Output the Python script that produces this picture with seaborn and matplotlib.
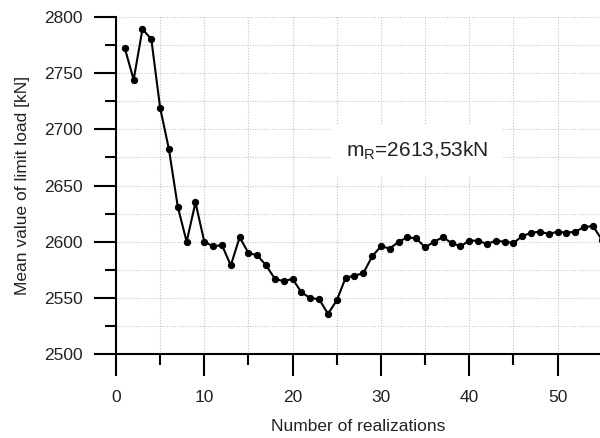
import numpy as np
import pandas as pd
import seaborn as sns
import matplotlib.pyplot as plt
from matplotlib.ticker import MultipleLocator

# Mean value of limit load vs. number of realizations
realizations = list(range(1, 56))
mean_load = [
    2772, 2744, 2789, 2780, 2719, 2682, 2631, 2600, 2635, 2600,
    2596, 2597, 2579, 2604, 2590, 2588, 2579, 2567, 2565, 2567,
    2555, 2550, 2549, 2536, 2548, 2568, 2570, 2572, 2587, 2596,
    2594, 2600, 2604, 2603, 2595, 2600, 2604, 2599, 2596, 2601,
    2601, 2598, 2601, 2600, 2599, 2605, 2608, 2609, 2607, 2609,
    2608, 2609, 2613, 2614, 2602,
]
annotation = "$\\mathregular{m_R}$=2613,53kN"
x_label = "Number of realizations"
y_label = "Mean value of limit load [kN]"


def main():
    sns.set_style("white")
    plt.rcParams['font.family'] = ['Liberation Sans', 'DejaVu Sans']

    df = pd.DataFrame({"n": realizations, "mean": mean_load})

    fig = plt.figure(figsize=(6, 4.38), dpi=100)
    ax = fig.add_axes([0.1933, 0.191, 0.8067, 0.7709])

    sns.lineplot(data=df, x="n", y="mean", ax=ax, color="black", linewidth=1.5,
                 marker="o", markersize=4.5, markeredgecolor="black", zorder=3)

    ax.set_xlim(0, 54.8)
    ax.set_ylim(2500, 2800)

    ax.xaxis.set_major_locator(MultipleLocator(10))
    ax.xaxis.set_minor_locator(MultipleLocator(5))
    ax.yaxis.set_major_locator(MultipleLocator(50))
    ax.yaxis.set_minor_locator(MultipleLocator(25))

    ax.grid(which="both", color="#c4c4c4", linestyle=(0, (1, 1.5)), linewidth=0.8)
    ax.set_axisbelow(True)

    for side in ["top", "right"]:
        ax.spines[side].set_visible(False)
    for side in ["left", "bottom"]:
        ax.spines[side].set_linewidth(1.5)
        ax.spines[side].set_color("black")

    ax.tick_params(which="major", direction="out", length=16, width=1.5,
                   labelsize=12.5, pad=8, bottom=True, left=True,
                   colors="black", labelcolor="#222222")
    ax.tick_params(which="minor", direction="out", length=8, width=1.5,
                   bottom=True, left=True, colors="black")
    ax.tick_params(axis="x", which="major", pad=10)

    ax.set_xlabel(x_label, fontsize=12.5, labelpad=10, color="#222222")
    ax.set_ylabel(y_label, fontsize=12.5, labelpad=10, color="#222222")

    ax.text(34.1, 2681, annotation, fontsize=15, ha="center", va="center",
            color="#222222",
            bbox=dict(facecolor="white", edgecolor="none", boxstyle="square,pad=0.7"),
            zorder=2)

    fig.savefig("out.png", dpi=100)


if __name__ == "__main__":
    main()
